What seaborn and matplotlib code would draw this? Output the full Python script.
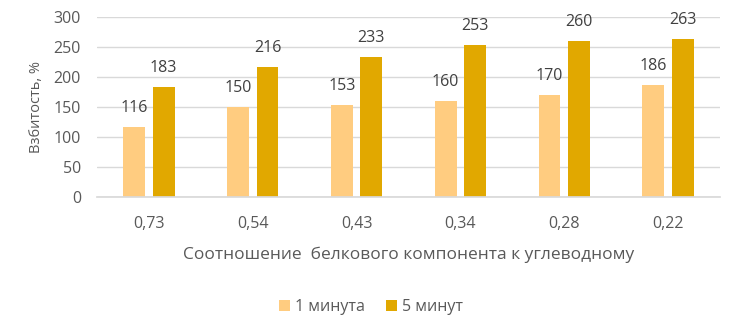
import matplotlib
matplotlib.use("Agg")
import matplotlib.pyplot as plt
import seaborn as sns
import pandas as pd

categories = ["0,73", "0,54", "0,43", "0,34", "0,28", "0,22"]
series_names = ["1 минута", "5 минут"]
values_1min = [116, 150, 153, 160, 170, 186]
values_5min = [183, 216, 233, 253, 260, 263]
colors = ["#FFCC80", "#E1A800"]

df = pd.DataFrame({
    "cat": categories * 2,
    "series": [series_names[0]] * len(categories) + [series_names[1]] * len(categories),
    "val": values_1min + values_5min,
})

sns.set_theme(style="white")
plt.rcParams["font.family"] = ["Open Sans", "DejaVu Sans"]
text_color = "#595959"

fig = plt.figure(figsize=(7.4, 3.35), dpi=100)
ax = fig.add_axes([0.131, 0.412, 0.842, 0.537])

sns.barplot(data=df, x="cat", y="val", hue="series", palette=colors,
            order=categories, hue_order=series_names,
            width=0.57, gap=0.26, ax=ax, legend=True, saturation=1,
            linewidth=0, edgecolor="none")

for cont in ax.containers:
    ax.bar_label(cont, fmt="%d", padding=8, fontsize=11.5, color="#404040")

ax.set_ylim(0, 300)
ax.set_yticks(range(0, 301, 50))
ax.yaxis.grid(True, color="#D9D9D9", linewidth=1)
ax.set_axisbelow(True)
for s in ["top", "right", "left"]:
    ax.spines[s].set_visible(False)
ax.spines["bottom"].set_color("#D9D9D9")
ax.tick_params(axis="both", length=0, labelsize=11.5, labelcolor=text_color)
ax.tick_params(axis="x", pad=13.5)
ax.tick_params(axis="y", pad=11.5)
ax.set_xlabel("Соотношение  белкового компонента к углеводному", fontsize=12.5,
              color=text_color, labelpad=11)
ax.set_ylabel("Взбитость, %", fontsize=10.5, color=text_color, labelpad=7)

handles, labels = ax.get_legend_handles_labels()
ax.get_legend().remove()
fig.legend(handles, labels, loc="center", bbox_to_anchor=(0.501, 0.084), ncol=2,
           frameon=False, fontsize=11.5, labelcolor=text_color,
           handlelength=0.7, handleheight=0.7, handletextpad=0.3, columnspacing=1.3)

fig.savefig("out.png", dpi=100)
